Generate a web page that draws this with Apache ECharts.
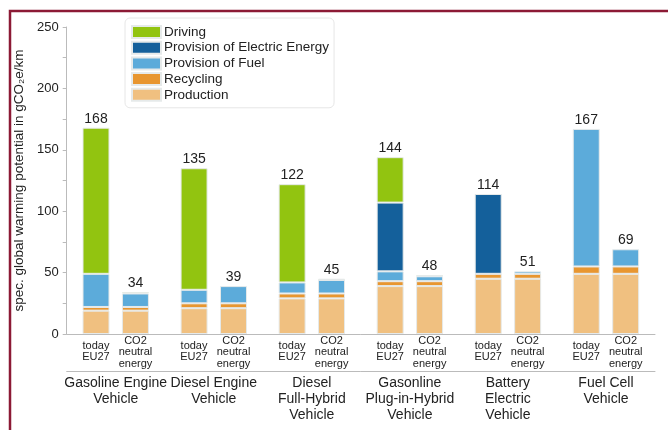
<!DOCTYPE html>
<html>
<head>
<meta charset="utf-8">
<script src="https://cdn.jsdelivr.net/npm/echarts@6/dist/echarts.min.js"></script>
<style>
    html, body { margin: 0; padding: 0; background: #fff; }
    #main { width: 668px; height: 430px; }
</style>
</head>
<body>
<div id="main"></div>
<script>
// vehicle groups (x axis) and the two scenarios per group
var groups = ['Gasoline Engine\nVehicle', 'Diesel Engine\nVehicle', 'Diesel\nFull-Hybrid\nVehicle',
    'Gasonline\nPlug-in-Hybrid\nVehicle', 'Battery\nElectric\nVehicle', 'Fuel Cell\nVehicle'];
var scenarios = ['today\nEU27', 'CO2\nneutral\nenergy'];

// gCO2e/km, "today EU27"
var productionToday = [19, 21, 29, 39, 45, 49];
var recyclingToday  = [3, 4, 4, 4, 4, 6];
var fuelToday       = [27, 11, 9, 8, 0, 112];
var electricToday   = [0, 0, 0, 56, 65, 0];
var drivingToday    = [119, 99, 80, 37, 0, 0];

// gCO2e/km, "CO2 neutral energy"
var productionCO2 = [19, 21, 29, 39, 45, 49];
var recyclingCO2  = [3, 4, 4, 4, 4, 6];
var fuelCO2       = [11, 14, 11, 4, 2, 14];
var electricCO2   = [0, 0, 0, 0, 0, 0];
var drivingCO2    = [1, 0, 1, 1, 0, 0];

var yTicks = [0, 50, 100, 150, 200, 250];

var names = ['Production', 'Recycling', 'Provision of Fuel', 'Provision of Electric Energy', 'Driving'];
var colors = {
    'Driving': '#92c410',
    'Provision of Electric Energy': '#14609b',
    'Provision of Fuel': '#5cabda',
    'Recycling': '#e89630',
    'Production': '#f0c080'
};

var stacks = {
    today: [productionToday, recyclingToday, fuelToday, electricToday, drivingToday],
    co2: [productionCO2, recyclingCO2, fuelCO2, electricCO2, drivingCO2]
};

var series = [];
Object.keys(stacks).forEach(function (key) {
    var cols = stacks[key];
    cols.forEach(function (vals, i) {
        series.push({
            name: names[i],
            type: 'bar',
            stack: key,
            barWidth: 27,
            barGap: '46%',
            itemStyle: { color: colors[names[i]], borderColor: '#e6eaea', borderWidth: 1 },
            data: vals.map(function (v) { return v === 0 ? null : v; })
        });
    });
    // total label on top of each stack
    var totals = groups.map(function (g, j) {
        var s = 0;
        cols.forEach(function (c) { s += c[j]; });
        return s;
    });
    series.push({
        name: 'total',
        type: 'bar',
        stack: key,
        barWidth: 27,
        barGap: '46%',
        silent: true,
        itemStyle: { color: 'transparent', borderWidth: 0 },
        label: {
            show: true,
            position: 'top',
            distance: 2,
            fontSize: 14,
            color: '#222',
            formatter: function (p) { return totals[p.dataIndex]; }
        },
        data: groups.map(function () { return 0; })
    });
});

var chart = echarts.init(document.getElementById('main'));
var option = {
    animation: false,
    textStyle: { fontFamily: 'Liberation Sans, Arial, sans-serif' },
    grid: { left: 66.7, right: 13, top: 27, bottom: 96 },
    legend: {
        data: ['Driving', 'Provision of Electric Energy', 'Provision of Fuel', 'Recycling', 'Production'],
        orient: 'vertical',
        left: 125,
        top: 18,
        icon: 'rect',
        itemWidth: 29,
        itemHeight: 12,
        itemGap: 1.7,
        padding: [7, 5, 6, 6],
        borderColor: '#e6e6e6',
        borderWidth: 1,
        borderRadius: 5,
        backgroundColor: '#fff',
        textStyle: { fontSize: 13.5, lineHeight: 14, color: '#222', padding: [0, 0, 0, -2] }
    },
    xAxis: [{
        type: 'category',
        data: groups,
        axisLine: { lineStyle: { color: '#bbb' } },
        axisTick: { show: false },
        axisLabel: {
            interval: 0,
            margin: 6,
            fontSize: 11,
            lineHeight: 11.5,
            color: '#222',
            padding: [0, 39.5, 0, 0],
            formatter: function () { return scenarios[0]; }
        }
    }, {
        type: 'category',
        data: groups,
        position: 'bottom',
        axisLine: { show: false },
        axisTick: { show: false },
        axisLabel: {
            interval: 0,
            margin: 1,
            fontSize: 11,
            lineHeight: 11.5,
            color: '#222',
            padding: [0, 0, 0, 39.5],
            formatter: function () { return scenarios[1]; }
        }
    }, {
        type: 'category',
        data: groups,
        position: 'bottom',
        offset: 37,
        axisLine: { show: true, lineStyle: { color: '#bbb' } },
        axisTick: { show: false },
        axisLabel: {
            interval: 0,
            margin: 4,
            fontSize: 14,
            lineHeight: 16,
            color: '#222'
        }
    }],
    yAxis: {
        type: 'value',
        min: 0,
        max: 250,
        interval: 25,
        name: 'spec. global warming potential in gCO\u2082e/km',
        nameLocation: 'middle',
        nameGap: 38,
        nameTextStyle: { fontSize: 13.5, color: '#222' },
        axisLine: { show: true, lineStyle: { color: '#bbb' } },
        axisTick: { show: true, length: 4, lineStyle: { color: '#bbb' } },
        splitLine: { show: false },
        axisLabel: {
            margin: 8,
            fontSize: 13,
            color: '#222',
            formatter: function (v) { return yTicks.indexOf(v) >= 0 ? v : ''; }
        }
    },
    graphic: [{
        type: 'rect',
        shape: { x: 10, y: 11, width: 700, height: 500 },
        style: { fill: 'none', stroke: '#8c1a35', lineWidth: 2.5 },
        silent: true
    }],
    series: series
};
chart.setOption(option);
</script>
</body>
</html>
